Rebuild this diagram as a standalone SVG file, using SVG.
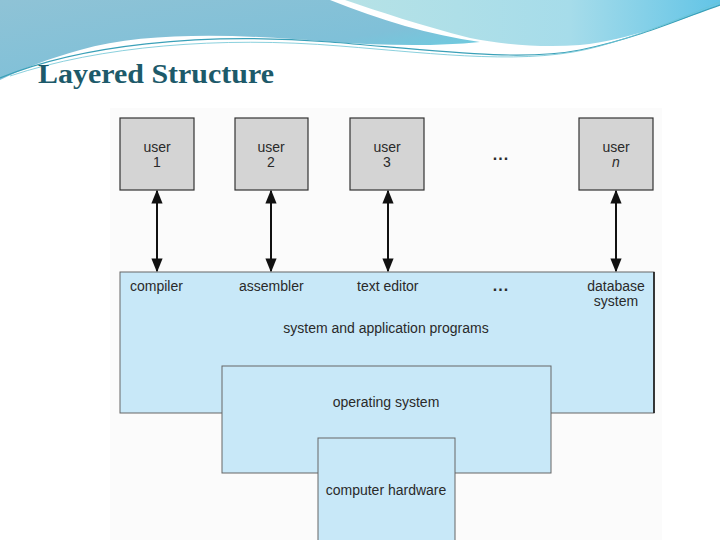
<svg xmlns="http://www.w3.org/2000/svg" width="720" height="540" viewBox="0 0 720 540">
<defs>
<linearGradient id="gL" x1="0" y1="0" x2="1" y2="1">
<stop offset="0" stop-color="#8fc3d6"/><stop offset="0.6" stop-color="#7fc0d8"/><stop offset="1" stop-color="#5ad8e8"/>
</linearGradient>
<linearGradient id="gR" x1="0" y1="0" x2="1" y2="0">
<stop offset="0" stop-color="#b6e2e6"/><stop offset="0.6" stop-color="#a6dcea"/><stop offset="1" stop-color="#62c4e6"/>
</linearGradient>
<marker id="ah" viewBox="0 0 10 10" refX="9" refY="5" markerWidth="7" markerHeight="7" orient="auto-start-reverse">
<path d="M0,1 L10,5 L0,9 z" fill="#111"/>
</marker>
<style>
.user{fill:#d4d4d4;stroke:#333;stroke-width:1.2}
.layer{fill:#c8e8f8;stroke:#666;stroke-width:1}
.t{font-family:"Liberation Sans",Arial,sans-serif;font-size:14px;fill:#2a2a2a}
.c{text-anchor:middle}
.dots{font-family:"Liberation Sans",Arial,sans-serif;font-size:16px;font-weight:bold;fill:#2a2a2a;text-anchor:middle;letter-spacing:1px}
.conn{stroke:#111;stroke-width:2;fill:none;marker-start:url(#ah);marker-end:url(#ah)}
</style>
</defs>
<rect width="720" height="540" fill="#fff"/>
<rect x="110" y="108" width="552" height="432" fill="#fbfbfb"/>
<g id="header">
<path d="M0,0 H330 C380,20 430,35 480,42 C430,47 380,45 330,42 C250,35 150,30 80,50 C50,58 20,70 0,80 Z" fill="url(#gL)"/>
<path d="M345,0 H720 V5 C680,20 630,40 580,45 C540,48 500,44 470,38 C420,25 380,12 345,0 Z" fill="url(#gR)"/>
<path d="M0,78 C80,45 200,32 330,42 C430,50 520,62 580,50 C640,38 690,15 720,5" stroke="#3aa0b8" stroke-width="1.2" fill="none"/>
<path d="M10,76 C100,46 220,36 340,46 C440,54 530,66 600,46 C650,32 690,14 720,2" stroke="#6cc4d4" stroke-width="0.8" fill="none"/>
<text x="38" y="83" font-family="'Liberation Serif',serif" font-size="27" font-weight="bold" fill="#1d5a6a" textLength="236" lengthAdjust="spacingAndGlyphs">Layered Structure</text>
</g>
<g id="system-programs">
<rect class="layer" x="120" y="272" width="534" height="141"/>
<line x1="654" y1="272" x2="654" y2="413" stroke="#111" stroke-width="1.5"/>
<text class="t" x="130" y="291">compiler</text>
<text class="t" x="239" y="291">assembler</text>
<text class="t" x="357" y="291">text editor</text>
<text class="dots" x="501" y="291">...</text>
<text class="t c" x="616" y="291">database</text>
<text class="t c" x="616" y="306">system</text>
<text class="t c" x="386" y="333">system and application programs</text>
</g>
<g id="operating-system">
<rect class="layer" x="222" y="366" width="329" height="107"/>
<text class="t c" x="386" y="407">operating system</text>
</g>
<g id="computer-hardware">
<rect class="layer" x="318" y="438" width="137" height="110"/>
<text class="t c" x="386" y="495">computer hardware</text>
</g>
<g id="user1"><rect class="user" x="120" y="118" width="74" height="72"/><text class="t c" x="157" y="152">user</text><text class="t c" x="157" y="167">1</text></g>
<g id="user2"><rect class="user" x="235" y="118" width="73" height="72"/><text class="t c" x="271" y="152">user</text><text class="t c" x="271" y="167">2</text></g>
<g id="user3"><rect class="user" x="350" y="118" width="74" height="72"/><text class="t c" x="387" y="152">user</text><text class="t c" x="387" y="167">3</text></g>
<g id="usern"><rect class="user" x="579" y="118" width="74" height="72"/><text class="t c" x="616" y="152">user</text><text class="t c" x="616" y="167" font-style="italic">n</text></g>
<text class="dots" x="501" y="160">...</text>
<g id="connectors">
<line class="conn" x1="157" y1="191" x2="157" y2="271"/>
<line class="conn" x1="271" y1="191" x2="271" y2="271"/>
<line class="conn" x1="388" y1="191" x2="388" y2="271"/>
<line class="conn" x1="616" y1="191" x2="616" y2="271"/>
</g>
</svg>
